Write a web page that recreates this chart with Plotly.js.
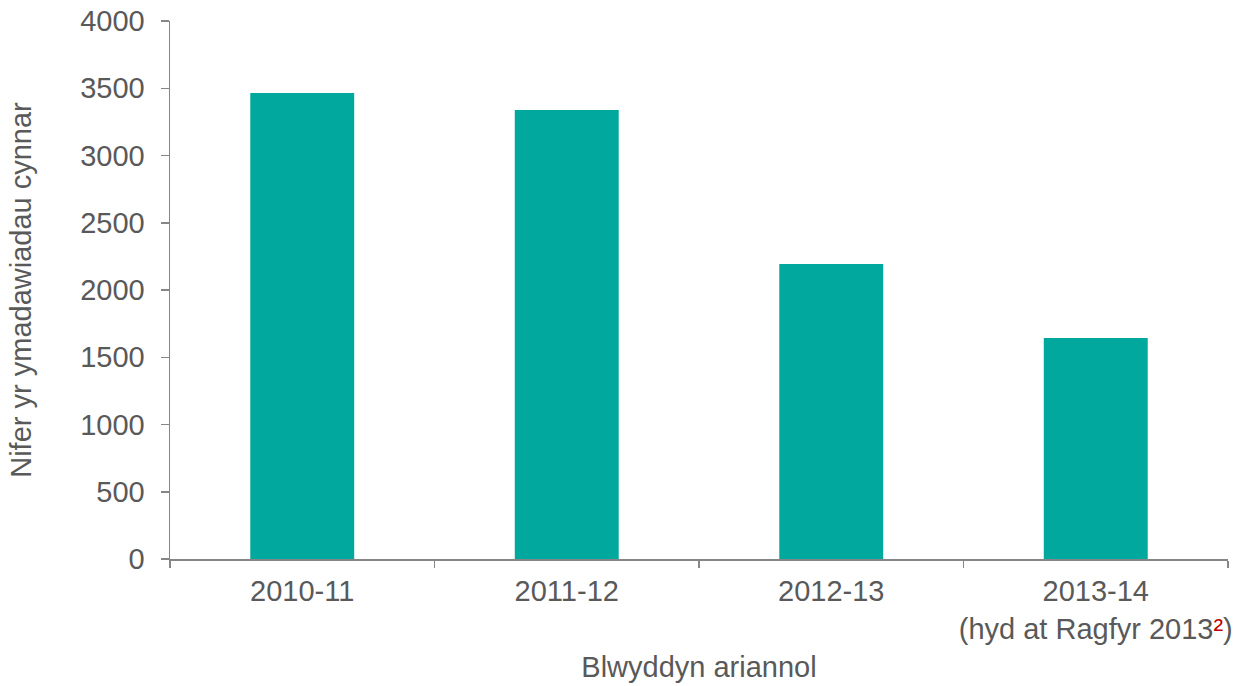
<!DOCTYPE html>
<html>
<head>
<meta charset="utf-8">
<script src="https://cdn.plot.ly/plotly-3.0.1.min.js"></script>
<style>html,body{margin:0;padding:0;background:#fff;}#chart{width:1236px;height:686px;}</style>
</head>
<body>
<div id="chart"></div>
<script>
const categories = ["2010-11", "2011-12", "2012-13", "2013-14"];
const tickLabels = ["2010-11", "2011-12", "2012-13", "2013-14<br>(hyd at Ragfyr 2013<span style=\"color:#C00000\">²</span>)"];
const values = [3465, 3338, 2193, 1643];
const yTicks = [0, 500, 1000, 1500, 2000, 2500, 3000, 3500, 4000];

const textColor = "#595959";
const axisColor = "#868686";
const fontFam = "Liberation Sans, Arial, sans-serif";

const trace = {
  type: "bar",
  x: categories,
  y: values,
  marker: {color: "#00A89E"},
  hoverinfo: "x+y"
};

const layout = {
  width: 1236,
  height: 686,
  margin: {l: 170, r: 8, t: 21, b: 127},
  paper_bgcolor: "#fff",
  plot_bgcolor: "#fff",
  bargap: 0.607,
  showlegend: false,
  font: {family: fontFam, size: 29, color: textColor},
  xaxis: {
    type: "category",
    automargin: false,
    tickangle: 0,
    tickvals: categories,
    ticktext: tickLabels,
    tickson: "boundaries",
    ticks: "outside",
    ticklen: 7,
    tickcolor: axisColor,
    tickwidth: 1.5,
    showline: true,
    linecolor: axisColor,
    linewidth: 1.5,
    showgrid: false,
    zeroline: false,
    tickfont: {family: fontFam, size: 29, color: textColor},
    ticklabelstandoff: 6,
    title: {text: "Blwyddyn ariannol", font: {family: fontFam, size: 29, color: textColor}, standoff: 12}
  },
  yaxis: {
    automargin: false,
    range: [0, 4000],
    tickvals: yTicks,
    ticktext: yTicks.map(String),
    ticks: "outside",
    ticklen: 8,
    tickcolor: axisColor,
    tickwidth: 1.5,
    showline: true,
    linecolor: axisColor,
    linewidth: 1.5,
    showgrid: false,
    zeroline: false,
    tickfont: {family: fontFam, size: 29, color: textColor},
    ticklabelstandoff: 10,
    title: {text: "Nifer yr ymadawiadau cynnar", font: {family: fontFam, size: 29, color: textColor}, standoff: 40}
  }
};

Plotly.newPlot("chart", [trace], layout, {displayModeBar: false, staticPlot: true});
</script>
</body>
</html>
